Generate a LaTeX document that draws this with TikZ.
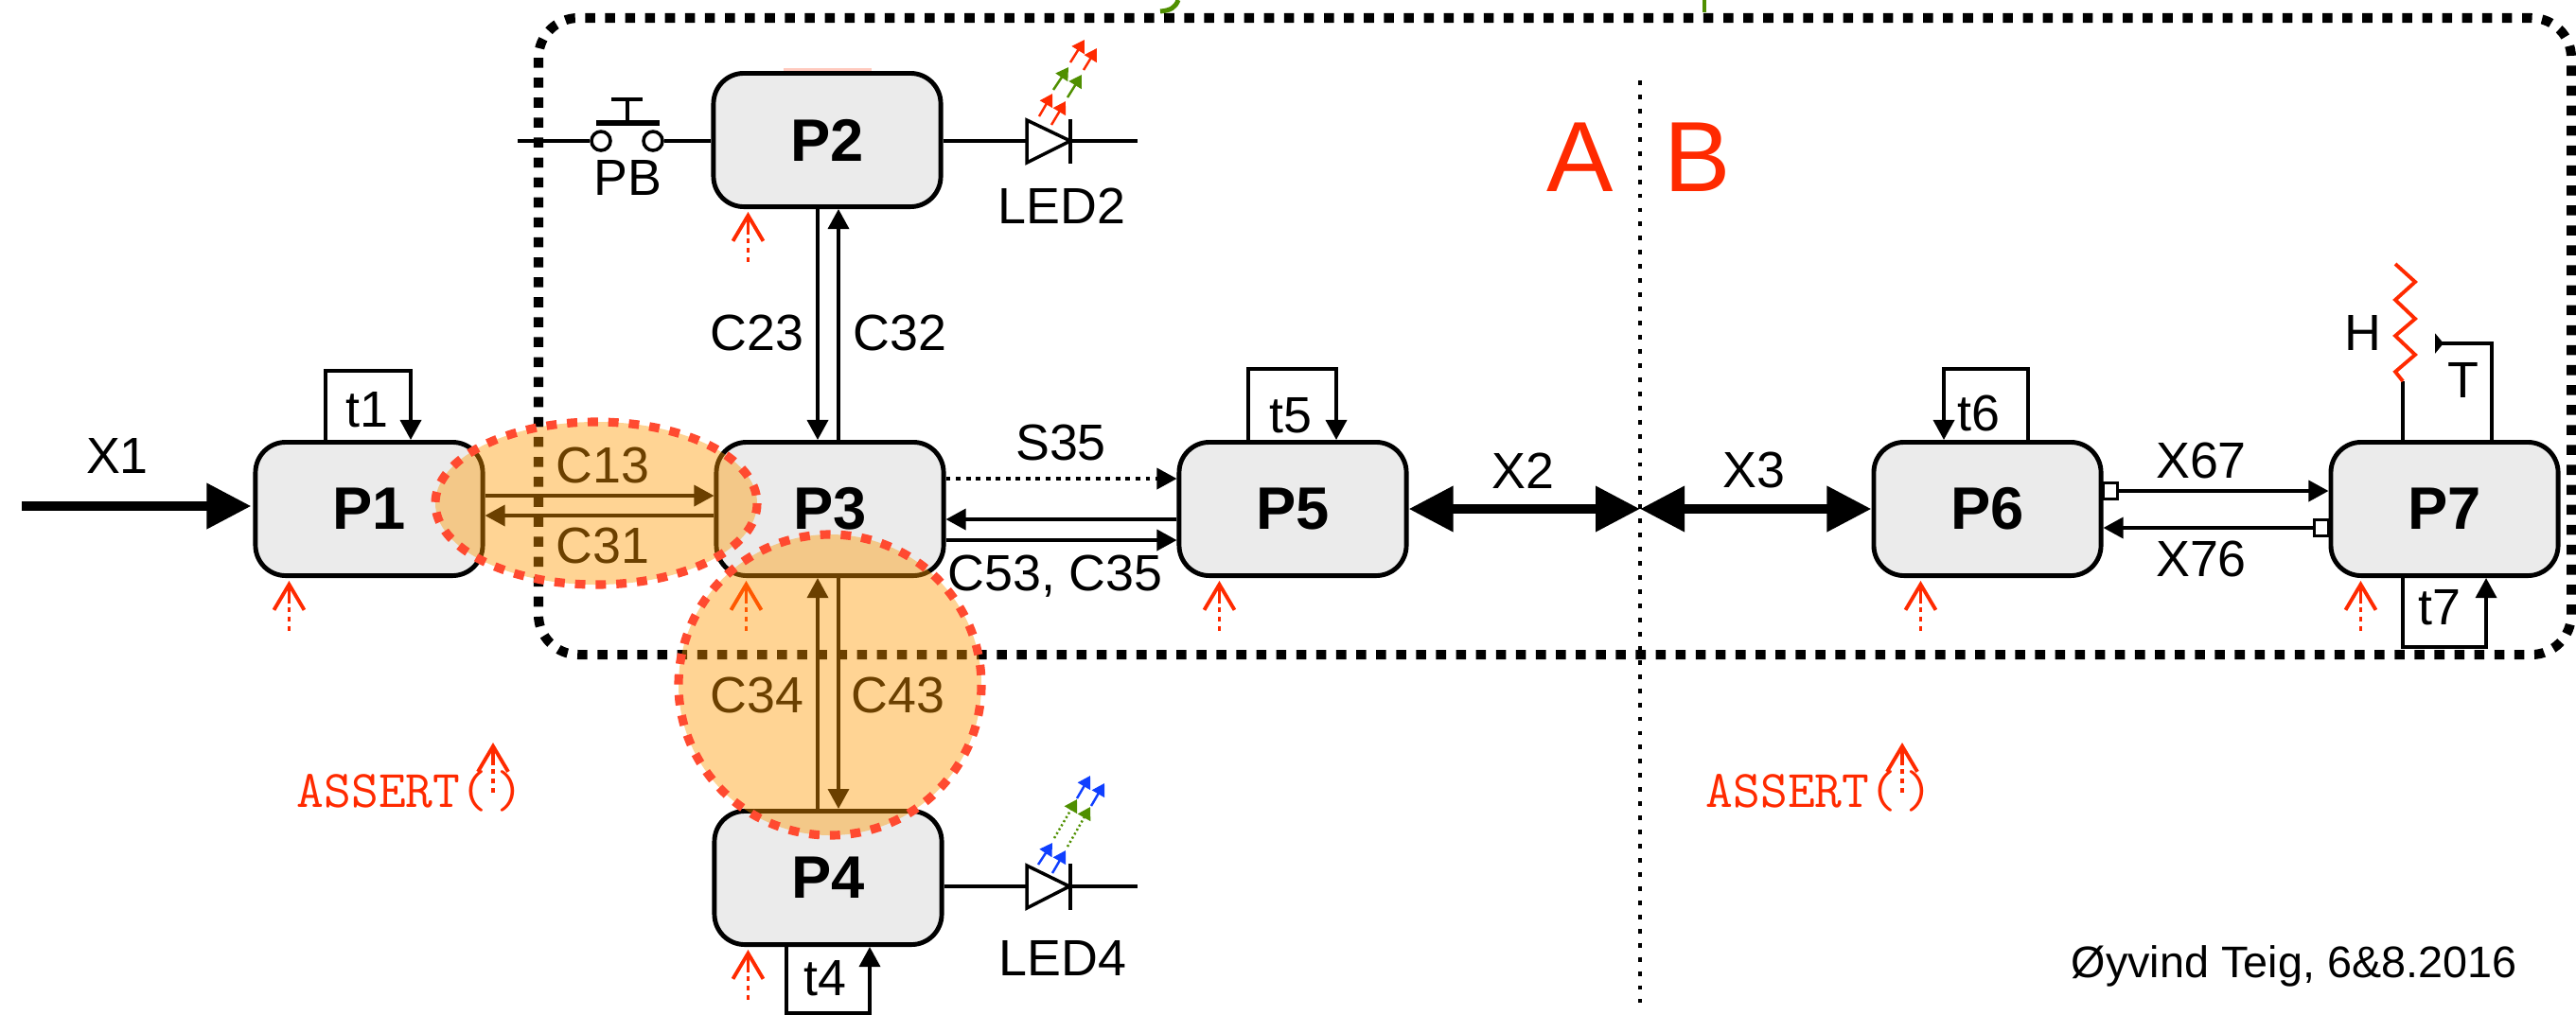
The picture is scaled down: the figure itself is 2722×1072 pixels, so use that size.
\documentclass[tikz,border=0pt]{standalone}
\usepackage{fontspec}
\setmainfont{Liberation Sans}
\setmonofont{Latin Modern Mono}
\usetikzlibrary{calc}
\usetikzlibrary{arrows.meta}
\definecolor{procFill}{HTML}{EBEBEB}
\definecolor{alarmRed}{HTML}{FF2A00}
\definecolor{zoneRed}{HTML}{FF4A30}
\definecolor{zoneFill}{HTML}{FF9900}
\definecolor{ledGreen}{HTML}{4F8F00}
\definecolor{ledBlue}{HTML}{0F3FFF}
\newcommand{\lineW}{1pt}
\tikzset{proc/.style = {draw, fill=procFill, line width=1.4pt, rounded corners=0.32cm, minimum width=2.4cm, minimum height=1.41cm, font=\fontsize{18}{20}\selectfont\bfseries}}
\tikzset{lbl/.style = {inner sep=0pt, font=\fontsize{15.3}{17}\selectfont}}
\tikzset{link/.style = {line width=\lineW, -{Triangle[length=0.21cm, width=0.22cm]}}}
\tikzset{wire/.style = {line width=\lineW}}
\tikzset{bigLink/.style = {line width=2.85pt, {Triangle[length=0.47cm, width=0.46cm, sep=0pt]}-{Triangle[length=0.47cm, width=0.46cm]}}}
\tikzset{port/.style = {draw, fill=white, line width=\lineW, inner sep=0pt, minimum width=0.15cm, minimum height=0.17cm}}
\tikzset{watch/.style = {alarmRed, line width=1.1pt, dash pattern=on 1.4pt off 1.4pt on 1.4pt off 1.4pt on 1.4pt off 1.2pt on 20pt off 1pt, -{Straight Barb[length=0.27cm, width=0.32cm]}}}
\tikzset{assertLbl/.style = {inner sep=0pt, anchor=base west, alarmRed, font=\fontsize{15.9}{18}\selectfont\ttfamily}}
\tikzset{ray/.style = {line width=0.7pt, -{Triangle[length=0.13cm, width=0.15cm]}}}
\tikzset{zone/.style = {draw=zoneRed, fill=zoneFill, fill opacity=0.42, line width=2.6pt, dash pattern=on 3.1pt off 3.1pt}}
\begin{document}
\begin{tikzpicture}[x=0.01cm, y=-0.01cm]
    \useasboundingbox (0,0) rectangle (2722,1072);

    % leftovers cut off at the top edge
    \draw[ledGreen, line width=1.4pt] (1245,0) .. controls (1242,8) and (1237,11) .. (1226,12);
    \draw[ledGreen, line width=1.4pt] (1801,0) -- (1801,13);
    \filldraw[fill=alarmRed!25, draw=alarmRed!25] (829,73) rectangle (920,80);

    % the two zones
    \draw[line width=2.85pt, dash pattern=on 3pt off 3pt, rounded corners=0.42cm] (569,19) rectangle (2717,692);
    \coordinate (divTop) at (1733,85);
    \coordinate (divBot) at (1733,1060);
    \draw[line width=1.3pt, dash pattern=on 1.4pt off 2.85pt] (divTop) -- (divBot);
    \node[inner sep=0pt, alarmRed, font=\fontsize{30}{32}\selectfont] (zoneA) at (1670,166) {A};
    \node[inner sep=0pt, alarmRed, font=\fontsize{30}{32}\selectfont] (zoneB) at (1794,166) {B};

    \node[proc] (P1) at (390,538) {P1};
    \node[proc] (P2) at (874,148) {P2};
    \node[proc] (P3) at (877,538) {P3};
    \node[proc] (P4) at (875,928) {P4};
    \node[proc] (P5) at (1366,538) {P5};
    \node[proc] (P6) at (2100,538) {P6};
    \node[proc] (P7) at (2583,538) {P7};

    % red arrows under the boxes
    \foreach \n/\dx in {P1/38, P2/39, P3/34, P4/38, P5/45, P6/52, P7/34}{
        \coordinate (\n-tip) at ($(\n.south west)+(\dx,3)$);
        \coordinate (\n-foot) at ($(\n-tip)+(0,53)$);
        \draw[watch] (\n-foot) -- (\n-tip);
    }

    % channels
    \coordinate (inX1) at (23,535);
    \draw[line width=2.85pt, -{Triangle[length=0.47cm, width=0.46cm]}] (inX1) -- ($(P1.west)+(-2,-3)$);
    \node[lbl] (lblX1) at (124,482) {X1};
    \draw[link] ($(P1.east)+(0,-14)$) -- ($(P3.west)+(0,-14)$);
    \draw[link] ($(P3.west)+(0,7)$) -- ($(P1.east)+(0,7)$);
    \node[lbl] (lblC13) at (637,492) {C13};
    \node[lbl] (lblC31) at (637,577) {C31};
    \draw[link] ($(P2.south)+(-10,0)$) -- ($(P3.north)+(-13,0)$);
    \draw[link] ($(P3.north)+(9,0)$) -- ($(P2.south)+(12,0)$);
    \node[lbl] (lblC23) at (800,352) {C23};
    \node[lbl] (lblC32) at (951,352) {C32};
    \draw[link] ($(P4.north)+(-11,0)$) -- ($(P3.south)+(-13,0)$);
    \draw[link] ($(P3.south)+(9,0)$) -- ($(P4.north)+(11,0)$);
    \node[lbl] (lblC34) at (800,735) {C34};
    \node[lbl] (lblC43) at (949,735) {C43};
    \draw[link, dash pattern=on 1.4pt off 1.6pt] ($(P3.east)+(0,-32)$) -- ($(P5.west)+(0,-32)$);
    \node[lbl] (lblS35) at (1121,468) {S35};
    \draw[link] ($(P5.west)+(0,11)$) -- ($(P3.east)+(0,11)$);
    \draw[link] ($(P3.east)+(0,33)$) -- ($(P5.west)+(0,33)$);
    \node[lbl] (lblC53) at (1115,609) {C53, C35};
    \draw[bigLink] (P5.east) -- (divTop |- P5.east);
    \node[lbl] (lblX2) at (1609,498) {X2};
    \draw[bigLink] (divTop |- P6.west) -- (P6.west);
    \node[lbl] (lblX3) at (1853,497) {X3};
    \node[port] (portP6) at (2230,519) {};
    \node[port] (portP7) at (2453,558) {};
    \draw[link] (portP6.east) -- (P7.west |- portP6.east);
    \draw[link] (portP7.west) -- (P6.east |- portP7.west);
    \node[lbl] (lblX67) at (2326,487) {X67};
    \node[lbl] (lblX76) at (2326,591) {X76};

    % timers
    \draw[link] ($(P1.north)+(-46,0)$) |- ++(90,-73) -- ($(P1.north)+(44,0)$);
    \node[lbl] (lblt1) at (388,433) {t1};
    \draw[link] ($(P5.north)+(-47,0)$) |- ++(93,-75) -- ($(P5.north)+(46,0)$);
    \node[lbl] (lblt5) at (1364,439) {t5};
    \draw[link] ($(P6.north)+(43,0)$) |- ++(-89,-75) -- ($(P6.north)+(-46,0)$);
    \node[lbl] (lblt6) at (2091,437) {t6};
    \draw[link] ($(P4.south)+(-44,0)$) |- ++(88,70) -- ($(P4.south)+(44,0)$);
    \node[lbl] (lblt4) at (872,1034) {t4};
    \draw[link] ($(P7.south)+(-44,0)$) |- ++(88,73) -- ($(P7.south)+(44,0)$);
    \node[lbl] (lblt7) at (2578,642) {t7};

    % push button
    \coordinate (pbIn) at (547,149);
    \node[draw, circle, line width=\lineW, inner sep=0pt, minimum size=0.2cm] (pbL) at (635,149) {};
    \node[draw, circle, line width=\lineW, inner sep=0pt, minimum size=0.2cm] (pbR) at (690,149) {};
    \draw[wire] (pbIn) -- (pbL);
    \draw[wire] (pbR) -- (P2.west |- pbR);
    \draw[line width=1.5pt] (630,130) -- (697,130);
    \draw[wire] (663,130) -- (663,105);
    \draw[line width=1pt] (646,105) -- (679,105);
    \node[lbl] (lblPB) at (663,188) {PB};

    % LEDs
    \coordinate (led2A) at (1085,149);
    \coordinate (led2K) at (1131,149);
    \coordinate (led2Out) at (1202,149);
    \draw[wire] (P2.east |- led2A) -- (led2A);
    \draw[wire] (led2A) -- (1085,127) -- (led2K) -- (1085,172) -- cycle;
    \draw[wire] (1131,126) -- (1131,173);
    \draw[wire] (led2K) -- (led2Out);
    \node[lbl] (lblLED2) at (1122,218) {LED2};
    \foreach \c/\xa/\ya/\xb/\yb in {alarmRed/1098/123/1112/99, alarmRed/1111/132/1126/107, ledGreen/1113/95/1129/71, ledGreen/1128/103/1143/79, alarmRed/1131/66/1146/42, alarmRed/1145/74/1159/51}{
        \draw[ray, \c] (\xa,\ya) -- (\xb,\yb);
    }
    \coordinate (led4A) at (1085,937);
    \coordinate (led4K) at (1130,937);
    \coordinate (led4Out) at (1202,937);
    \draw[wire] (P4.east |- led4A) -- (led4A);
    \draw[wire] (led4A) -- (1085,915) -- (led4K) -- (1085,960) -- cycle;
    \draw[wire] (1131,913) -- (1131,962);
    \draw[wire] (led4K) -- (led4Out);
    \node[lbl] (lblLED4) at (1123,1013) {LED4};
    \foreach \c/\xa/\ya/\xb/\yb in {ledBlue/1097/914/1112/891, ledBlue/1112/923/1126/899, ledBlue/1138/844/1152/820, ledBlue/1153/852/1167/828}{
        \draw[ray, \c] (\xa,\ya) -- (\xb,\yb);
    }
    \foreach \xa/\ya/\xb/\yb in {1114/886/1138/845, 1128/895/1152/853}{
        \draw[ray, ledGreen, dash pattern=on 0.6pt off 0.8pt] (\xa,\ya) -- (\xb,\yb);
    }

    % heater and sensor on P7
    \coordinate (htStart) at (2539,403);
    \draw[wire] (P7.north -| htStart) -- (htStart);
    \draw[alarmRed, line width=1.1pt] (htStart) -- (2531,393) -- (2552,375) -- (2531,355) -- (2552,337) -- (2531,317) -- (2552,298) -- (2531,279);
    \node[lbl] (lblH) at (2497,352) {H};
    \coordinate (sensEnd) at (2573,363);
    \draw[wire, -{Triangle[reversed, length=0.09cm, width=0.21cm]}] ($(P7.north)+(50,0)$) |- (sensEnd);
    \node[lbl] (lblT) at (2603,402) {T};

    % ASSERT marks
    \node[assertLbl] (assertA) at (313,853) {ASSERT(\kern2.5pt)};
    \node[assertLbl] (assertB) at (1802,853) {ASSERT(\kern2.5pt)};
    \foreach \n/\xx in {assertA/521, assertB/2010}{
        \coordinate (\n-foot) at (\xx,838);
        \coordinate (\n-tip) at (\xx,785);
        \draw[watch] (\n-foot) -- (\n-tip);
    }

    \node[inner sep=0pt, font=\fontsize{13.3}{15}\selectfont] (credit) at (2424,1021) {Øyvind Teig, 6\&8.2016};

    % orange zones go on top of everything
    \draw[zone] (630,532) ellipse [x radius=170, y radius=86];
    \draw[zone] (877,724) ellipse [x radius=160, y radius=159];
\end{tikzpicture}
\end{document}
